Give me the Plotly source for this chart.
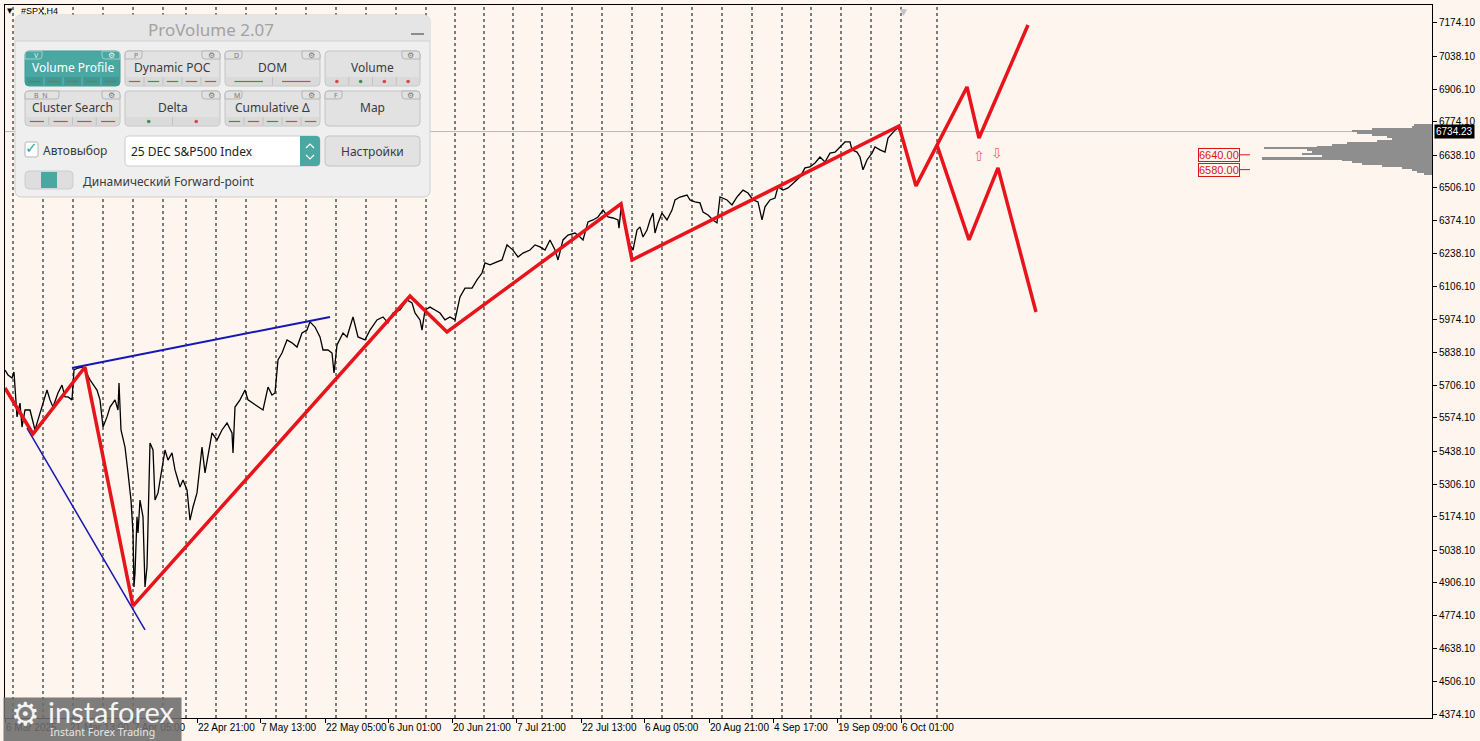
import plotly.graph_objects as go

# ---------------- data ----------------
price_ticks = [7174.10, 7038.10, 6906.10, 6774.10, 6638.10, 6506.10, 6374.10, 6238.10,
               6106.10, 5974.10, 5838.10, 5706.10, 5574.10, 5438.10, 5306.10, 5174.10,
               5038.10, 4906.10, 4774.10, 4638.10, 4506.10, 4374.10]

date_tick_bars = [0, 64, 128, 192, 255, 320, 383, 447, 511, 576, 639, 704, 768, 832, 896]
date_tick_labels = ["6 Mar 2025", "21 Mar 13:00", "7 Apr 05:00", "22 Apr 21:00", "7 May 13:00",
                    "22 May 05:00", "6 Jun 01:00", "20 Jun 21:00", "7 Jul 21:00", "22 Jul 13:00",
                    "6 Aug 05:00", "20 Aug 21:00", "4 Sep 17:00", "19 Sep 09:00", "6 Oct 01:00"]

week_separator_bars = [8, 38, 68, 98, 128, 158, 181, 211, 241, 271, 301, 331, 361, 391, 421, 450,
                       479, 508, 537, 567, 597, 627, 657, 687, 717, 747, 777, 806, 836, 866, 896, 932]

price_bars = [0, 3, 7, 9, 12, 15, 17, 20, 25, 28, 30, 33, 37, 42, 45, 48, 53, 57, 60, 63, 67, 69, 73,
              77, 81, 85, 92, 95, 98, 102, 105, 110, 113, 114, 116, 120, 123, 126, 128, 129, 130, 132,
              133, 135, 138, 140, 142, 143, 145, 148, 150, 153, 157, 160, 163, 167, 170, 175, 178, 182,
              185, 188, 192, 195, 197, 200, 203, 207, 212, 217, 222, 227, 228, 230, 235, 240, 243, 248,
              253, 258, 263, 267, 270, 273, 277, 282, 287, 292, 297, 302, 305, 310, 315, 318, 323, 327,
              329, 332, 338, 342, 348, 353, 360, 365, 372, 378, 383, 388, 395, 402, 407, 410, 415, 417,
              420, 425, 430, 435, 440, 445, 450, 452, 455, 460, 467, 472, 477, 480, 485, 492, 497, 502,
              508, 513, 518, 525, 530, 535, 540, 545, 550, 553, 558, 563, 570, 575, 578, 583, 588, 593,
              598, 603, 608, 613, 614, 616, 620, 625, 628, 632, 635, 638, 642, 645, 648, 650, 653, 657,
              662, 667, 670, 675, 682, 685, 690, 695, 698, 703, 708, 712, 715, 722, 727, 732, 738, 743,
              748, 753, 757, 760, 765, 770, 773, 778, 783, 788, 795, 800, 805, 810, 815, 820, 825, 830,
              835, 840, 845, 847, 852, 855, 858, 862, 867, 870, 875, 880, 883, 887, 890, 893, 896, 897]
price_close = [5768, 5748, 5736, 5760, 5578, 5634, 5537, 5606, 5606, 5553, 5525, 5566, 5618, 5687, 5647,
               5618, 5675, 5707, 5659, 5659, 5647, 5768, 5776, 5780, 5760, 5728, 5687, 5647, 5537, 5578,
               5618, 5647, 5606, 5715, 5525, 5456, 5351, 5241, 5108, 4889, 4946, 5173, 5108, 5241, 5173,
               4889, 4970, 5108, 5472, 5444, 5241, 5270, 5375, 5444, 5403, 5432, 5363, 5294, 5322, 5282,
               5160, 5213, 5270, 5375, 5456, 5351, 5416, 5513, 5484, 5525, 5553, 5513, 5432, 5618, 5647,
               5687, 5647, 5634, 5618, 5606, 5699, 5667, 5675, 5809, 5837, 5890, 5878, 5861, 5918, 5930,
               5963, 5942, 5902, 5849, 5849, 5837, 5756, 5870, 5918, 5902, 5983, 5902, 5890, 5930, 5971,
               5983, 5959, 5999, 6011, 6052, 6040, 5999, 5971, 5930, 6011, 6023, 6011, 5999, 5971, 5983,
               5971, 6011, 6064, 6100, 6100, 6133, 6161, 6202, 6194, 6206, 6214, 6275, 6254, 6226, 6242,
               6254, 6275, 6267, 6254, 6295, 6254, 6214, 6295, 6315, 6323, 6307, 6295, 6368, 6376, 6388,
               6416, 6388, 6384, 6376, 6343, 6424, 6356, 6275, 6254, 6335, 6348, 6307, 6335, 6376, 6404,
               6323, 6364, 6404, 6376, 6416, 6457, 6469, 6477, 6457, 6449, 6445, 6408, 6396, 6376, 6364,
               6469, 6457, 6437, 6469, 6497, 6485, 6457, 6449, 6376, 6429, 6457, 6465, 6510, 6497, 6506,
               6526, 6550, 6587, 6591, 6607, 6631, 6611, 6647, 6651, 6672, 6692, 6692, 6660, 6651, 6631,
               6579, 6619, 6647, 6672, 6660, 6651, 6708, 6728, 6740, 6749, 6728, 6734]

wave_bars = [0, 28, 80, 128, 405, 442, 616, 627, 894, 911, 962, 974, 1023]
wave_prices = [5695, 5509, 5780, 4812, 6068, 5922, 6441, 6214, 6757, 6514, 6915, 6708, 7166]
alt_wave_bars = [932, 964, 993, 1031]
alt_wave_prices = [6679, 6295, 6587, 6003]

upper_trend_bars = [67, 325]
upper_trend_prices = [5776, 5983]
lower_trend_bars = [22, 140]
lower_trend_prices = [5533, 4715]

profile_prices = [6761, 6753, 6745, 6736, 6728, 6720, 6712, 6704, 6696, 6688, 6680, 6672, 6666,
                  6660, 6651, 6643, 6635, 6627, 6619, 6611, 6603, 6595, 6587, 6579, 6571, 6562]
profile_volume = [18, 20, 60, 80, 75, 60, 45, 40, 55, 85, 100, 115, 168,
                  125, 120, 130, 110, 170, 90, 80, 70, 50, 30, 20, 15, 8]

last_price = 6734.23
level_prices = [6640.00, 6580.00]
symbol_label = "#SPX,H4"

# ---------------- geometry helpers (overlay UI) ----------------
PL, PR, PT, PB = 5, 1432, 5, 718
W_PLOT, H_PLOT = PR - PL, PB - PT
Y0, Y1 = 4358.0, 7247.0
BG = "#FDF5EE"
UI = "Noto Sans"
AX = "Liberation Sans"


def P(px, py):
    return ((px - PL) / W_PLOT, (PB - py) / H_PLOT)


shapes = []
ann = []


def fmt(px, py):
    a, b = P(px, py)
    return f"{a:.5f},{b:.5f}"


def rr(x0, y0, x1, y1, r, fill, line=None, lw=1, corners=(1, 1, 1, 1)):
    a, b, c, d = [r * k for k in corners]
    path = (f"M {fmt(x0 + a, y0)} L {fmt(x1 - b, y0)} Q {fmt(x1, y0)} {fmt(x1, y0 + b)} "
            f"L {fmt(x1, y1 - c)} Q {fmt(x1, y1)} {fmt(x1 - c, y1)} L {fmt(x0 + d, y1)} "
            f"Q {fmt(x0, y1)} {fmt(x0, y1 - d)} L {fmt(x0, y0 + a)} Q {fmt(x0, y0)} {fmt(x0 + a, y0)} Z")
    shapes.append(dict(type="path", xref="paper", yref="paper", path=path, fillcolor=fill,
                       line=dict(color=line if line else fill, width=lw if line else 0), layer="above"))


def seg(x0, y0, x1, y1, color, w=1):
    a, b = P(x0, y0)
    c, d = P(x1, y1)
    shapes.append(dict(type="line", xref="paper", yref="paper", x0=a, y0=b, x1=c, y1=d,
                       line=dict(color=color, width=w), layer="above"))


def dot(cx, cy, r, color):
    a, b = P(cx - r, cy + r)
    c, d = P(cx + r, cy - r)
    shapes.append(dict(type="circle", xref="paper", yref="paper", x0=a, y0=b, x1=c, y1=d,
                       fillcolor=color, line=dict(width=0), layer="above"))


def txt(px, py, text, size, color, anchor="center", family=UI, **kw):
    a, b = P(px, py)
    ann.append(dict(x=a, y=b, xref="paper", yref="paper", text=text, showarrow=False,
                    font=dict(size=size, color=color, family=family), xanchor=anchor,
                    yanchor="middle", **kw))


# ---------------- traces ----------------
fig = go.Figure()

for b in week_separator_bars:
    shapes.append(dict(type="line", xref="x", yref="paper", x0=b, x1=b, y0=0, y1=1,
                       line=dict(color="black", width=1, dash="3px,3px"), layer="below"))
shapes.append(dict(type="line", xref="paper", yref="y", x0=0, x1=1, y0=last_price, y1=last_price,
                   line=dict(color="#b9b9b9", width=1), layer="below"))

fig.add_trace(go.Bar(y=profile_prices, x=profile_volume, orientation="h", xaxis="x2",
                     marker=dict(color="#8e8e8e", line=dict(width=0)), width=8.1))

fig.add_trace(go.Scatter(x=price_bars, y=price_close, mode="lines",
                         line=dict(color="black", width=1.3)))
fig.add_trace(go.Scatter(x=upper_trend_bars, y=upper_trend_prices, mode="lines",
                         line=dict(color="#1616b4", width=2)))
fig.add_trace(go.Scatter(x=lower_trend_bars, y=lower_trend_prices, mode="lines",
                         line=dict(color="#1616b4", width=1.5)))
fig.add_trace(go.Scatter(x=wave_bars, y=wave_prices, mode="lines",
                         line=dict(color="#e8141b", width=3.5)))
fig.add_trace(go.Scatter(x=alt_wave_bars, y=alt_wave_prices, mode="lines",
                         line=dict(color="#e8141b", width=3.5)))

# level labels on the right
for lv in level_prices:
    ann.append(dict(x=1235, y=lv, xref="x", yref="y", text=f"{lv:.2f}", showarrow=False,
                    xanchor="right", yanchor="middle", bordercolor="#d81818", borderwidth=1,
                    borderpad=0, font=dict(size=11, color="#d81818", family=AX)))
    shapes.append(dict(type="line", xref="x", yref="y", x0=1235, x1=1245, y0=lv, y1=lv,
                       line=dict(color="#d81818", width=1), layer="above"))

# small projection arrows
ann.append(dict(x=974, y=6635, xref="x", yref="y", text="⇧", showarrow=False,
                font=dict(size=14, color="#ee6a6a", family="DejaVu Sans")))
ann.append(dict(x=992, y=6648, xref="x", yref="y", text="⇩", showarrow=False,
                font=dict(size=14, color="#ee6a6a", family="DejaVu Sans")))

# last price box
ann.append(dict(x=1.0015, y=last_price, xref="paper", yref="y", text=f"{last_price:.2f}",
                showarrow=False, xanchor="left", yanchor="middle", bgcolor="black", borderpad=1,
                font=dict(size=10, color="white", family=AX)))

# gray marker at top
ann.append(dict(x=898, y=1.0, xref="x", yref="paper", text="▼", showarrow=False, yanchor="top",
                font=dict(size=9, color="#c4c4c4", family="DejaVu Sans")))

# symbol label
txt(10, 11, "▼", 7, "black", family="DejaVu Sans")
txt(19, 11, symbol_label, 9, "black", anchor="left", family=AX)

# ---------------- ProVolume panel ----------------
rr(15, 15, 430, 197, 7, "#efefef", line="#cfcfcf")
rr(15, 15, 430, 41, 7, "#e5e5e5", corners=(1, 1, 0, 0))
seg(15, 41, 430, 41, "#d2d2d2")
txt(211, 29, "ProVolume 2.07", 17, "#a2a2a2")
seg(411, 34, 424, 34, "#8c8c8c", 2)

RED, GREEN = "#d24a4a", "#3f8f55"
buttons = [
    (25, 120, 51, 86, "Volume Profile", "V", [("-", GREEN), ("-", RED), ("-", RED), ("-", RED), ("-", RED)], True),
    (125, 220, 51, 86, "Dynamic POC", "P", [("-", RED), ("-", GREEN), ("-", GREEN), ("-", RED), ("-", RED)], False),
    (225, 320, 51, 86, "DOM", "D", [("-", GREEN), ("-", RED)], False),
    (325, 420, 51, 86, "Volume", None, [(".", RED), (".", GREEN), (".", RED), (".", RED)], False),
    (25, 120, 91, 126, "Cluster Search", "B  N", [("-", RED), ("-", RED), ("-", RED), ("-", RED)], False),
    (125, 220, 91, 126, "Delta", None, [(".", GREEN), (".", RED)], False),
    (225, 320, 91, 126, "Cumulative Δ", "M", [("-", GREEN), ("-", RED), ("-", GREEN), ("-", RED), ("-", RED)], False),
    (325, 420, 91, 126, "Map", "F", [], False),
]
for x0, x1, y0, y1, label, tag, strip, active in buttons:
    fill = "#4ba7a2" if active else "#e2e2e2"
    rr(x0, y0, x1, y1, 4, fill, line="#c4c4c4" if not active else "#3f9a95")
    if strip:
        sf = "#3f9a95" if active else "#dadada"
        rr(x0 + 1, y1 - 9, x1 - 1, y1 - 1, 3, sf, corners=(0, 0, 1, 1))
        n = len(strip)
        sw = (x1 - x0) / n
        for i, (kind, col) in enumerate(strip):
            cx = x0 + sw * (i + 0.5)
            if kind == "-":
                seg(cx - sw * 0.3, y1 - 4.5, cx + sw * 0.3, y1 - 4.5, col, 1.2)
            else:
                dot(cx, y1 - 4.5, 1.8, col)
            if i > 0:
                seg(x0 + sw * i, y1 - 9, x0 + sw * i, y1 - 1, "#6cbab6" if active else "#c2c2c2")
    if tag:
        tw = 34 if len(tag) > 1 else 17
        rr(x0, y0, x0 + tw, y0 + 8, 3, fill, line="#9fcfcc" if active else "#b5b5b5", corners=(1, 0, 1, 0))
        txt(x0 + 7, y0 + 4, tag, 7, "#dff0ef" if active else "#777777", anchor="left")
    rr(x1 - 18, y0, x1, y0 + 8, 3, fill, line="#9fcfcc" if active else "#b5b5b5", corners=(0, 1, 0, 1))
    txt(x1 - 9, y0 + 4, "⚙", 8, "#e8f4f3" if active else "#777777", family="DejaVu Sans")
    txt((x0 + x1) / 2, y0 + 17, label, 12, "white" if active else "#3a3a3a")

# checkbox + selector row
rr(25, 142, 38, 157, 2, "white", line="#b7b7b7")
txt(31, 148, "✓", 15, "#3aa39d", family="DejaVu Sans")
txt(41, 150, "Автовыбор", 12, "#3a3a3a", anchor="left")
rr(125, 136, 320, 166, 4, "white", line="#cccccc")
rr(300, 136, 320, 166, 4, "#4ba7a2", corners=(0, 1, 1, 0))
shapes.append(dict(type="path", xref="paper", yref="paper",
                   path=f"M {fmt(306, 148)} L {fmt(310, 144)} L {fmt(314, 148)}",
                   line=dict(color="white", width=1.2), layer="above"))
shapes.append(dict(type="path", xref="paper", yref="paper",
                   path=f"M {fmt(306, 155)} L {fmt(310, 159)} L {fmt(314, 155)}",
                   line=dict(color="white", width=1.2), layer="above"))
txt(129, 152, "25 DEC S&P500 Index", 12, "#222222", anchor="left")
rr(325, 136, 420, 166, 4, "#e2e2e2", line="#c4c4c4")
txt(372, 151, "Настройки", 12, "#3a3a3a")

# toggle row
rr(25, 171, 73, 189, 4, "#dedede", line="#cdcdcd")
rr(41, 172, 57, 188, 0, "#4ba7a2")
txt(81, 181, "Динамический Forward-point", 12, "#3a3a3a", anchor="left")

# ---------------- instaforex logo ----------------
a, b = P(3, 697)
ann.append(dict(x=a, y=b, xref="paper", yref="paper", text=" ", showarrow=False, xanchor="left",
                yanchor="top", width=177, height=44, bgcolor="rgba(108,108,108,0.88)", borderpad=0))
txt(25, 714, "⚙", 32, "#f4f4f4", family="DejaVu Sans")
txt(46, 711, "instaforex", 29, "#f4f4f4", anchor="left", family="Lato")
txt(48, 732, "Instant Forex Trading", 10.5, "#e6e6e6", anchor="left", family="Noto Sans")

# ---------------- layout ----------------
fig.update_layout(
    width=1480, height=741,
    margin=dict(l=PL, r=1480 - PR, t=PT, b=741 - PB, pad=0, autoexpand=False),
    paper_bgcolor=BG, plot_bgcolor=BG,
    showlegend=False, hovermode=False,
    shapes=shapes, annotations=ann,
    xaxis=dict(range=[0, W_PLOT], tickvals=date_tick_bars, ticktext=date_tick_labels,
               ticks="outside", ticklen=4, tickcolor="black", ticklabelposition="outside right",
               tickangle=0, automargin=False,
               showgrid=False, zeroline=False, showline=True, linecolor="black", mirror=True,
               tickfont=dict(family=AX, size=10, color="black")),
    xaxis2=dict(range=[W_PLOT, 0], overlaying="x", visible=False, showgrid=False),
    yaxis=dict(range=[Y0, Y1], side="right", tickvals=price_ticks, automargin=False,
               ticktext=[f"{v:.2f}" for v in price_ticks], ticks="outside", ticklen=4,
               tickcolor="black", showgrid=False, zeroline=False, showline=True,
               linecolor="black", mirror=True, tickfont=dict(family=AX, size=10, color="black")),
    bargap=0,
)

fig.write_html("out.html", config={"displayModeBar": False},
               post_script="document.body.style.margin='0';document.body.style.overflow='hidden';")
